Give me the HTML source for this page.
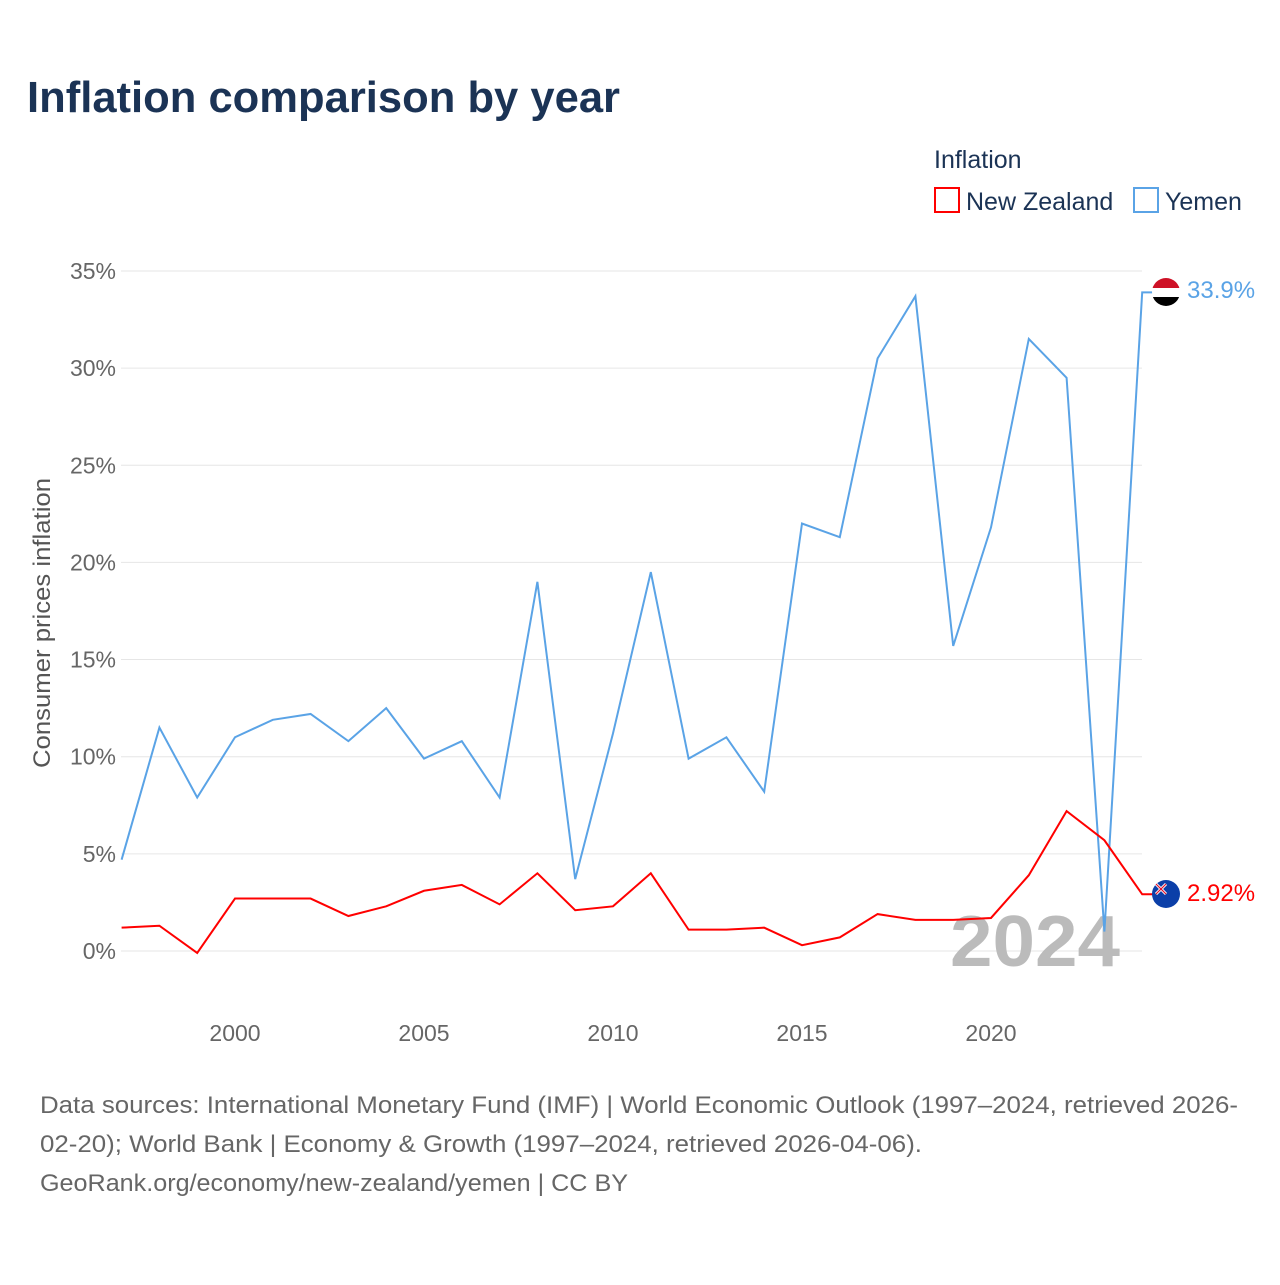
<!DOCTYPE html>
<html><head><meta charset="utf-8"><style>
body{margin:0;background:#fff;font-family:"Liberation Sans",sans-serif}
</style></head><body>
<svg width="1280" height="1280" xmlns="http://www.w3.org/2000/svg" font-family="Liberation Sans, sans-serif">
<text x="27" y="112" font-size="44" font-weight="bold" fill="#1b3355" textLength="593" lengthAdjust="spacingAndGlyphs">Inflation comparison by year</text>
<text x="934" y="168" font-size="25" fill="#1b3355">Inflation</text>
<g><rect x="935" y="188" width="24" height="24" fill="none" stroke="#ff0000" stroke-width="2"/><text x="966" y="210" font-size="25" fill="#1b3355">New Zealand</text></g>
<g><rect x="1134" y="188" width="24" height="24" fill="none" stroke="#5aa3e6" stroke-width="2"/><text x="1165" y="210" font-size="25" fill="#1b3355">Yemen</text></g>
<g id="grid"></g>
<g id="yticks"></g>
<g id="xticks"></g>
<text transform="translate(50,623) rotate(-90)" text-anchor="middle" font-size="24" fill="#555" textLength="290" lengthAdjust="spacingAndGlyphs">Consumer prices inflation</text>
<text x="1120" y="966" text-anchor="end" font-size="72" font-weight="bold" fill="#bbb" textLength="170" lengthAdjust="spacingAndGlyphs">2024</text>
<g id="series"></g>
<g><clipPath id="cy"><circle cx="1166" cy="292" r="14"/></clipPath><g clip-path="url(#cy)"><rect x="1152" y="278" width="28" height="10" fill="#ce1126"/><rect x="1152" y="288" width="28" height="9" fill="#fff"/><rect x="1152" y="297" width="28" height="10" fill="#000"/></g></g>
<g><circle cx="1166" cy="894" r="14" fill="#0b3fa8"/><path d="M1156 884 L1166 894 M1166 884 L1156 894" stroke="#fff" stroke-width="3"/><path d="M1156 884 L1166 894 M1166 884 L1156 894" stroke="#e0102c" stroke-width="1.2"/></g>
<text x="1187" y="298" font-size="24" fill="#5aa3e6">33.9%</text>
<text x="1187" y="901" font-size="24" fill="#ff0000">2.92%</text>
<g font-size="24" fill="#666">
<text x="40" y="1113" textLength="1198" lengthAdjust="spacingAndGlyphs">Data sources: International Monetary Fund (IMF) | World Economic Outlook (1997–2024, retrieved 2026-</text>
<text x="40" y="1152" textLength="882" lengthAdjust="spacingAndGlyphs">02-20); World Bank | Economy &amp; Growth (1997–2024, retrieved 2026-04-06).</text>
<text x="40" y="1191" textLength="588" lengthAdjust="spacingAndGlyphs">GeoRank.org/economy/new-zealand/yemen | CC BY</text>
</g>
</svg>
<script>
const years=[1997,1998,1999,2000,2001,2002,2003,2004,2005,2006,2007,2008,2009,2010,2011,2012,2013,2014,2015,2016,2017,2018,2019,2020,2021,2022,2023,2024];
const yemen=[4.7,11.5,7.9,11.0,11.9,12.2,10.8,12.5,9.9,10.8,7.9,19.0,3.7,11.2,19.5,9.9,11.0,8.2,22.0,21.3,30.5,33.7,15.7,21.8,31.5,29.5,1.0,33.9];
const nz=[1.2,1.3,-0.1,2.7,2.7,2.7,1.8,2.3,3.1,3.4,2.4,4.0,2.1,2.3,4.0,1.1,1.1,1.2,0.3,0.7,1.9,1.6,1.6,1.7,3.9,7.2,5.7,2.92];
const yTicks=[0,5,10,15,20,25,30,35];
const xTicks=[2000,2005,2010,2015,2020];
const NS="http://www.w3.org/2000/svg";
const X=y=>235+(y-2000)*37.8;
const Y=v=>951-v*19.43;
const grid=document.getElementById('grid'),yt=document.getElementById('yticks'),xt=document.getElementById('xticks'),s=document.getElementById('series');
yTicks.forEach(t=>{
 const l=document.createElementNS(NS,'line');
 
 
 l.setAttribute('x1',121);l.setAttribute('x2',1142);l.setAttribute('y1',Y(t));l.setAttribute('y2',Y(t));l.setAttribute('stroke','#e6e6e6');
 grid.appendChild(l);
 const tx=document.createElementNS(NS,'text');
 
 
 tx.setAttribute('x',116);tx.setAttribute('y',Y(t)+8);tx.setAttribute('text-anchor','end');tx.setAttribute('font-size','23');tx.setAttribute('fill','#666');
 tx.textContent=t+'%';yt.appendChild(tx);
});
xTicks.forEach(t=>{
 const tx=document.createElementNS(NS,'text');
 
 
 tx.setAttribute('x',X(t));tx.setAttribute('y',1041);tx.setAttribute('text-anchor','middle');tx.setAttribute('font-size','23');tx.setAttribute('fill','#666');
 tx.textContent=t;xt.appendChild(tx);
});
function line(vals,color,name){
 const p=document.createElementNS(NS,'path');
 
 
 let d=vals.map((v,i)=>(i?'L':'M')+X(years[i])+' '+Y(v)).join(' ');
 d+=' L'+(X(years[years.length-1])+12)+' '+Y(vals[vals.length-1]);
 p.setAttribute('d',d);p.setAttribute('fill','none');p.setAttribute('stroke',color);p.setAttribute('stroke-width','2');
 s.appendChild(p);
}
line(yemen,'#5aa3e6','yemen-line');
line(nz,'#ff0000','new-zealand-line');
</script>
</body></html>
